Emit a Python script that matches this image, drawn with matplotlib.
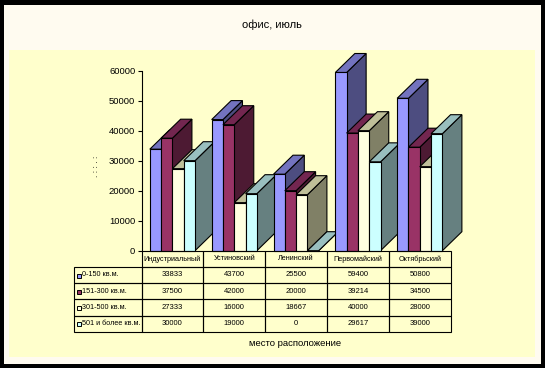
import matplotlib
matplotlib.use("Agg")
import matplotlib.pyplot as plt
from matplotlib.patches import Rectangle

plt.rcParams['font.family'] = ['Liberation Sans', 'DejaVu Sans']

districts = ["Индустриальный", "Устиновский", "Ленинский", "Первомайский", "Октябрьский"]
series_names = ["0-150 кв.м.", "151-300 кв.м.", "301-500 кв.м.", "501 и более кв.м."]
s_0_150 = [33833, 43700, 25500, 59400, 50800]
s_151_300 = [37500, 42000, 20000, 39214, 34500]
s_301_500 = [27333, 16000, 18667, 40000, 28000]
s_501 = [30000, 19000, 0, 29617, 39000]
series = [s_0_150, s_151_300, s_301_500, s_501]

front = ['#9999ff', '#993366', '#ffffe0', '#ccffff']
top = ['#7373bf', '#732650', '#bfbf99', '#99bfbf']
side = ['#4d4d80', '#4d1a33', '#808066', '#668080']

W, H = 545, 368
x_left, x_right = 141.5, 450.7
y_base, y_top = 250.7, 70.7
cat_w = (x_right - x_left) / 5
unit = 60000 / (y_base - y_top)  # value per pixel

fig = plt.figure(figsize=(W / 100, H / 100), dpi=100, facecolor='black')
fig.patches.append(Rectangle((4 / W, 1 - 364 / H), 537 / W, 359 / H, transform=fig.transFigure,
                             facecolor='#fffbf0', edgecolor='none', zorder=-2))
fig.patches.append(Rectangle((9 / W, 1 - 357 / H), 526 / W, 307 / H, transform=fig.transFigure,
                             facecolor='#ffffcc', edgecolor='none', zorder=-1))

ax = fig.add_axes([x_left / W, 1 - y_base / H, (x_right - x_left) / W, (y_base - y_top) / H])
ax.patch.set_visible(False)
ax.set_xlim(-0.5, 4.5)
ax.set_ylim(0, 60000)

bar_w = 11.3 / cat_w
dx = 19.5 / cat_w
dy = 19 * unit
z = 3
for i in range(len(districts)):
    for j in range(4):
        v = series[j][i]
        x0 = i - 2 * bar_w + j * bar_w
        x1 = x0 + bar_w
        ax.fill([x1, x1 + dx, x1 + dx, x1], [0, dy, v + dy, v], color=side[j], ec='black', lw=0.8,
                zorder=z, clip_on=False)
        ax.fill([x0, x1, x1 + dx, x0 + dx], [v, v, v + dy, v + dy], color=top[j], ec='black', lw=0.8,
                zorder=z, clip_on=False)
        ax.bar(x0, v, bar_w, align='edge', color=front[j], ec='black', lw=0.8, zorder=z, clip_on=False)
        z += 1

for s in ['top', 'right', 'bottom']:
    ax.spines[s].set_visible(False)
ax.spines['left'].set_linewidth(0.8)
ax.set_xticks([])
ax.set_yticks(range(0, 60001, 10000))
ax.tick_params(axis='y', length=3, width=0.8, pad=1.5, labelsize=6.8)

# table under the bars
cells = [[str(v) for v in s] for s in series]
label_w = (x_left - 74.3) / (x_right - x_left)
tb = ax.table(cellText=cells, colLabels=districts, cellLoc='center', colLoc='center', colWidths=[0.2] * 5,
              bbox=[0, -81 / (y_base - y_top), 1, 81 / (y_base - y_top)], zorder=z + 1)
row_h = tb[(1, 0)].get_height()
for r, name in enumerate(series_names):
    cell = tb.add_cell(r + 1, -1, label_w, row_h, text=name, loc='left')
    cell.PAD = 0.12
tb.auto_set_font_size(False)
for (r, col), c in tb.get_celld().items():
    c.set_linewidth(0.8)
    c.set_facecolor('none')
    c.set_fontsize(5.5 if r > 0 and col >= 0 else 5.2)

# legend keys in the row labels
key_x = -0.5 + (78.5 - x_left) / cat_w
for j in range(4):
    ax.plot([key_x], [(y_base - (275.5 + 16.2 * j)) * unit], 's', ms=3.0, mfc=front[j], mec='black', mew=0.7,
            clip_on=False, zorder=z + 2)

fig.text(272 / W, 1 - 25 / H, "офис, июль", ha='center', va='center', fontsize=8)
fig.text(295 / W, 1 - 344 / H, "место расположение", ha='center', va='center', fontsize=6.8)
fig.text(96 / W, 1 - 166 / H, ". : : . :", ha='center', va='center', fontsize=6, rotation=90)

fig.savefig('out.png', dpi=100)
